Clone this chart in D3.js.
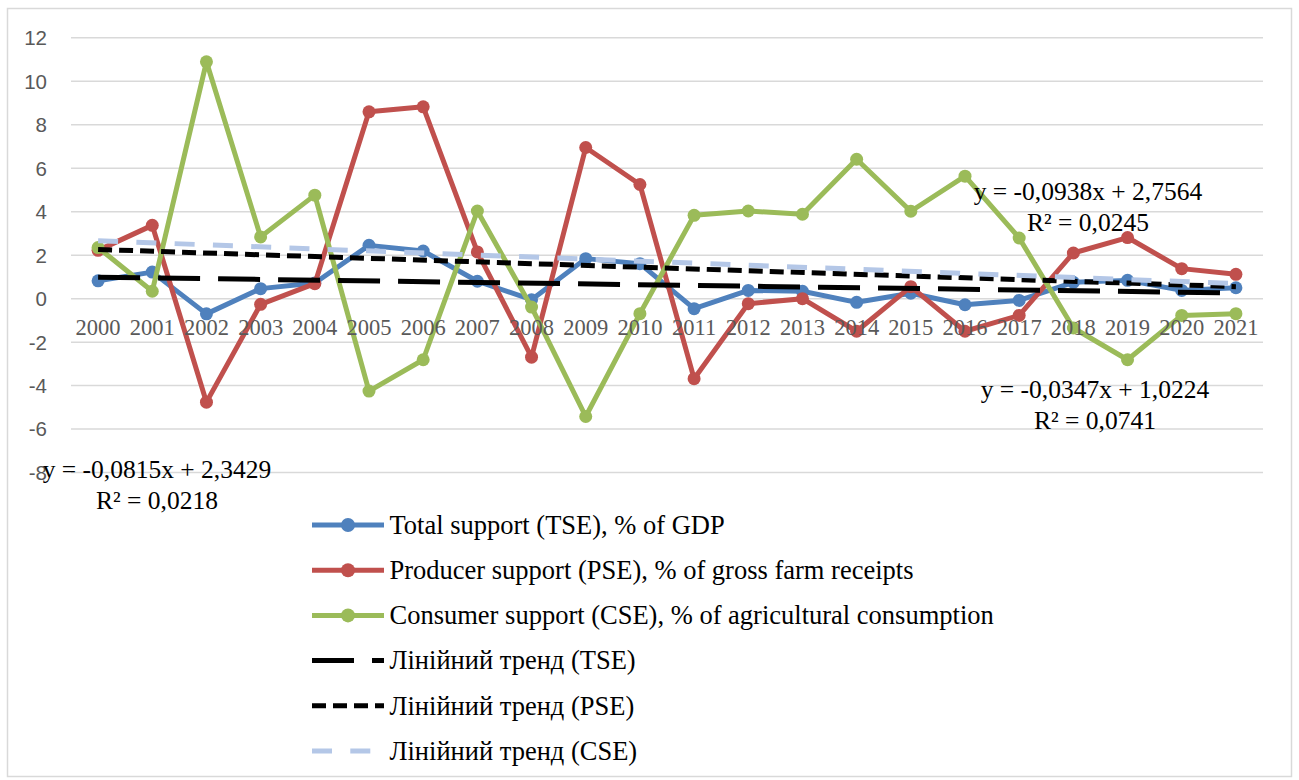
<!DOCTYPE html>
<html lang="en">
<head>
<meta charset="UTF-8">
<script src="https://d3js.org/d3.v7.min.js"></script>
<title>Support estimates</title>
<style>
  body { margin: 0; background: #fff; }
</style>
</head>
<body>
<script>
// categories
var years = ["2000","2001","2002","2003","2004","2005","2006","2007","2008","2009","2010",
             "2011","2012","2013","2014","2015","2016","2017","2018","2019","2020","2021"];

// series values
var tse = [0.82, 1.22, -0.70, 0.46, 0.72, 2.45, 2.19, 0.80, -0.05, 1.84, 1.61,
           -0.46, 0.38, 0.34, -0.17, 0.25, -0.28, -0.08, 0.75, 0.84, 0.38, 0.50];
var pse = [2.22, 3.37, -4.76, -0.26, 0.69, 8.59, 8.82, 2.15, -2.69, 6.95, 5.25,
           -3.68, -0.23, 0.00, -1.50, 0.55, -1.50, -0.77, 2.10, 2.81, 1.38, 1.12];
var cse = [2.35, 0.34, 10.89, 2.84, 4.76, -4.25, -2.81, 4.03, -0.39, -5.42, -0.69,
           3.83, 4.03, 3.88, 6.41, 4.02, 5.63, 2.79, -1.35, -2.81, -0.77, -0.69];

// linear trends (x = 1..22)
var trendSlope = [-0.0347, -0.0815, -0.0938];
var trendIntercept = [1.0224, 2.3429, 2.7564];
var trendEq = [["y = -0,0347x + 1,0224", "R² = 0,0741"],
               ["y = -0,0815x + 2,3429", "R² = 0,0218"],
               ["y = -0,0938x + 2,7564", "R² = 0,0245"]];

var yTicks = [12, 10, 8, 6, 4, 2, 0, -2, -4, -6, -8];

var seriesNames = ["Total support (TSE), % of GDP",
                   "Producer support (PSE), % of gross farm receipts",
                   "Consumer support (CSE), % of agricultural consumption"];
var trendNames = ["Лінійний тренд (TSE)", "Лінійний тренд (PSE)", "Лінійний тренд (CSE)"];

var colors = ["#4f81bd", "#c0504d", "#9bbb59"];
var trendStyle = [
  {color: "#000", dash: "42,18"},
  {color: "#000", dash: "14,7"},
  {color: "#b4c7e7", dash: "20,18.3"}
];

var serif = "'Liberation Serif', 'Times New Roman', serif",
    sans = "'Liberation Sans', Arial, sans-serif";

var width = 1299, height = 780;

var svg = d3.select("body").append("svg")
    .attr("width", width)
    .attr("height", height);

// chart frame
svg.append("rect")
    .attr("x", 7.5).attr("y", 8.5)
    .attr("width", 1284).attr("height", 768)
    .attr("fill", "#fff")
    .attr("stroke", "#d9d9d9")
    .attr("stroke-width", 1.5);

var x = d3.scaleBand().domain(years).range([71, 1263]).padding(0);
var y = d3.scaleLinear().domain([-8, 12]).range([472.6, 37.7]);
var cx = function(d, i) { return x(years[i]) + x.bandwidth() / 2; };

// gridlines
svg.append("g")
  .selectAll("line")
    .data(yTicks)
  .enter().append("line")
    .attr("x1", 71).attr("x2", 1263)
    .attr("y1", function(d) { return y(d); })
    .attr("y2", function(d) { return y(d); })
    .attr("stroke", "#d9d9d9")
    .attr("stroke-width", 1.5);

// y labels
svg.append("g")
  .selectAll("text")
    .data(yTicks)
  .enter().append("text")
    .attr("x", 47)
    .attr("y", function(d) { return y(d); })
    .attr("dy", "0.36em")
    .attr("text-anchor", "end")
    .attr("fill", "#595959")
    .style("font-family", sans)
    .style("font-size", "20.5px")
    .text(function(d) { return d; });

// series
var data = [tse, pse, cse];
var line = d3.line()
    .x(cx)
    .y(function(d) { return y(d); });

data.forEach(function(vals, k) {
  var g = svg.append("g");
  g.append("path")
      .datum(vals)
      .attr("d", line)
      .attr("fill", "none")
      .attr("stroke", colors[k])
      .attr("stroke-width", 5)
      .attr("stroke-linejoin", "round");
  g.selectAll("circle")
      .data(vals)
    .enter().append("circle")
      .attr("cx", cx)
      .attr("cy", function(d) { return y(d); })
      .attr("r", 6.5)
      .attr("fill", colors[k]);
});

// x labels (sit on the zero line, drawn over the series)
svg.append("g")
  .selectAll("text")
    .data(years)
  .enter().append("text")
    .attr("x", function(d) { return x(d) + x.bandwidth() / 2; })
    .attr("y", 335)
    .attr("text-anchor", "middle")
    .attr("fill", "#595959")
    .style("font-family", serif)
    .style("font-size", "22.5px")
    .text(function(d) { return d; });

// trend lines
trendSlope.forEach(function(m, k) {
  var b = trendIntercept[k];
  var pts = [1, years.length].map(function(t) { return [t, m * t + b]; });
  svg.append("line")
      .attr("x1", cx(null, pts[0][0] - 1))
      .attr("y1", y(pts[0][1]))
      .attr("x2", cx(null, pts[1][0] - 1))
      .attr("y2", y(pts[1][1]))
      .attr("stroke", trendStyle[k].color)
      .attr("stroke-width", 5)
      .attr("stroke-dasharray", trendStyle[k].dash);
});

// trend equations
var eqPos = [[1095, 398], [157, 478], [1088, 200]];
trendEq.forEach(function(lines, k) {
  var t = svg.append("text")
      .attr("text-anchor", "middle")
      .attr("fill", "#000")
      .style("font-family", serif)
      .style("font-size", "25.5px");
  lines.forEach(function(s, j) {
    t.append("tspan")
        .attr("x", eqPos[k][0])
        .attr("y", eqPos[k][1] + j * 30.5)
        .text(s);
  });
});

// legend
var legendItems = seriesNames.map(function(n, i) { return {name: n, kind: "series", k: i}; })
    .concat(trendNames.map(function(n, i) { return {name: n, kind: "trend", k: i}; }));

var legend = svg.selectAll(".legend")
    .data(legendItems)
  .enter().append("g")
    .attr("class", "legend")
    .attr("transform", function(d, i) { return "translate(312," + (525 + i * 45.2) + ")"; });

legend.append("line")
    .attr("x1", 0).attr("x2", 72)
    .attr("stroke", function(d) { return d.kind == "series" ? colors[d.k] : trendStyle[d.k].color; })
    .attr("stroke-width", 5)
    .attr("stroke-dasharray", function(d) { return d.kind == "series" ? null : trendStyle[d.k].dash; });

legend.filter(function(d) { return d.kind == "series"; })
  .append("circle")
    .attr("cx", 36)
    .attr("r", 7)
    .attr("fill", function(d) { return colors[d.k]; });

legend.append("text")
    .attr("x", 77.5)
    .attr("dy", "0.33em")
    .attr("fill", "#000")
    .style("font-family", serif)
    .style("font-size", "26.5px")
    .text(function(d) { return d.name; });
</script>
</body>
</html>
